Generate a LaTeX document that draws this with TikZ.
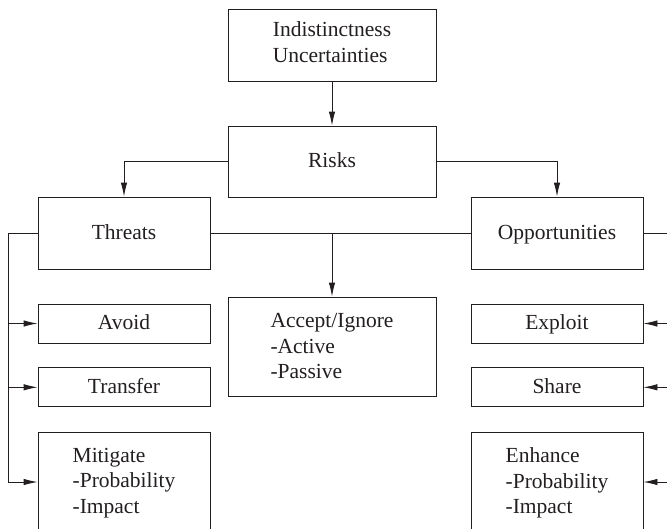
\documentclass[tikz,border=0pt]{standalone}
\usepackage{fontspec}
\setmainfont{Liberation Serif}
\usetikzlibrary{arrows.meta}
\definecolor{ink}{HTML}{231F20}
\begin{document}
\begin{tikzpicture}[x=1pt,y=-1pt,
  box/.style={draw=ink, line width=0.9pt, rectangle, inner sep=0pt, align=left,
    font=\fontsize{21.5}{25.5}\selectfont, text=ink},
  one/.style={box, text height=15pt, text depth=3pt},
  conn/.style={draw=ink, line width=0.9pt},
  arr/.style={conn, -{Latex[length=14pt,width=6.5pt]}}]
\useasboundingbox (0,0) rectangle (667,528);
\clip (0,0) rectangle (667,528);
\fill[white] (0,0) rectangle (667,528);
\node[box, minimum width=208, minimum height=72] (top) at (332,45) {Indistinctness\\Uncertainties\rule[-6pt]{0pt}{6pt}};
\node[one, minimum width=208, minimum height=71] (risks) at (332,161.5) {Risks};
\node[one, minimum width=172, minimum height=72] (threats) at (124,233) {Threats};
\node[one, minimum width=172, minimum height=72] (opps) at (557,233) {Opportunities};
\node[box, minimum width=208, minimum height=99] (accept) at (332,346.5) {Accept/Ignore\\-Active\\-Passive};
\node[one, minimum width=172, minimum height=39] (avoid) at (124,323.5) {Avoid};
\node[one, minimum width=172, minimum height=39] (transfer) at (124,387.3) {Transfer};
\node[box, minimum width=172, minimum height=102] (mitigate) at (124,483) {Mitigate\\-Probability\\-Impact};
\node[one, minimum width=172, minimum height=39] (exploit) at (557,323.5) {Exploit};
\node[one, minimum width=172, minimum height=39] (share) at (557,387.3) {Share};
\node[box, minimum width=172, minimum height=102] (enhance) at (557,483) {Enhance\\-Probability\\-Impact};
\coordinate (lb) at (8,482);
\coordinate (rb) at (680,482);
\draw[arr] (top) -- (risks);
\draw[arr] (risks.west) -| (threats.north);
\draw[arr] (risks.east) -| (opps.north);
\draw[conn] (threats.east) -- (opps.west);
\draw[arr] (accept.north |- threats.east) -- (accept.north);
\draw[conn] (threats.west) -| (lb);
\draw[arr] (avoid.west -| lb) -- (avoid.west);
\draw[arr] (transfer.west -| lb) -- (transfer.west);
\draw[arr] (lb) -- (mitigate.west |- lb);
\draw[conn] (opps.east) -| (rb);
\draw[arr] (exploit.east -| rb) -- (exploit.east);
\draw[arr] (share.east -| rb) -- (share.east);
\draw[arr] (rb) -- (enhance.east |- rb);
\end{tikzpicture}
\end{document}
